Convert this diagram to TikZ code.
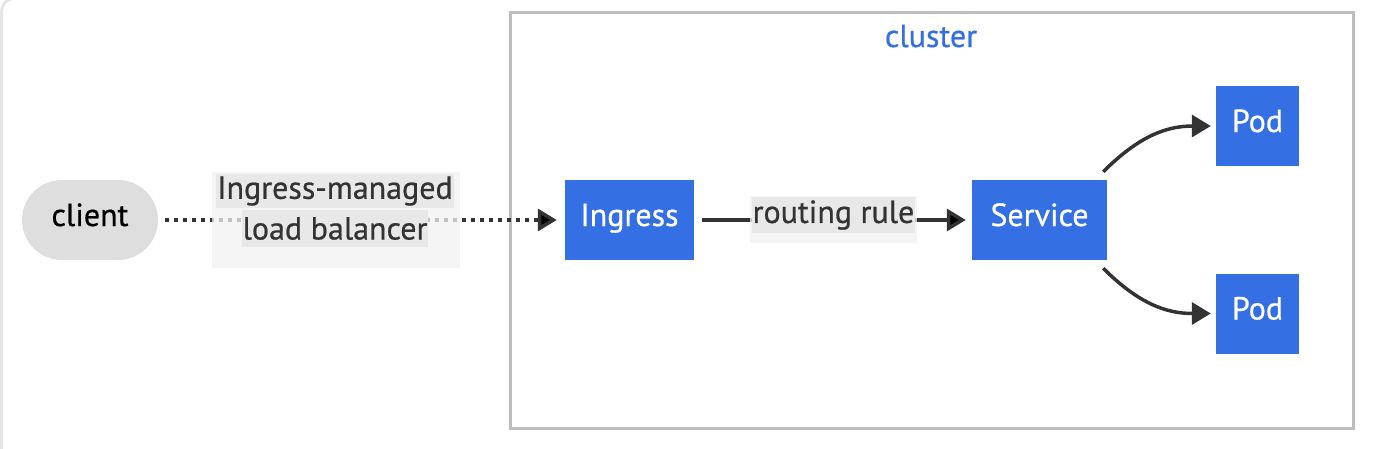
\documentclass[tikz,border=0pt]{standalone}
\usepackage{fontspec}
\setmainfont{PT Sans}[UprightFeatures={FakeBold=0.6}]
\usetikzlibrary{arrows.meta}
\definecolor{podblue}{HTML}{3470E4}
\definecolor{pillgray}{HTML}{DEDEDE}
\definecolor{clustergray}{HTML}{BDBDBD}
\definecolor{framegray}{HTML}{E6E6E6}
\definecolor{edgegray}{HTML}{333333}
\definecolor{lblback}{HTML}{F2F2F2}
\definecolor{lblfront}{HTML}{E8E8E8}

\begin{document}
\begin{tikzpicture}[
      x=1pt, y=-1pt,
      font=\fontsize{32}{36}\selectfont,
      every node/.style={inner sep=0pt},
      pill/.style={rectangle, rounded corners=40pt, fill=pillgray, text=black, minimum width=136pt, minimum height=80pt, text height=23pt, text depth=11pt},
      box/.style={rectangle, fill=podblue, text=white, minimum height=80pt, text height=23pt, text depth=11pt},
      lblbox/.style={rectangle, fill=lblback, fill opacity=0.75},
      lblline/.style={rectangle, fill=lblfront, text=edgegray, inner xsep=1pt},
      pointer/.style={line width=3.5pt, draw=edgegray, -{Triangle[length=19pt,width=22pt]}},
      dpointer/.style={pointer, dash pattern=on 4pt off 5pt},
      frame/.style={draw=framegray, line width=3pt}
      ]

      \useasboundingbox (0,0) rectangle (1382,448);
      \draw[frame] (1.5,460) -- (1.5,14) .. controls (1.5,4) and (6,-1.5) .. (16,-1.5);

      \node[draw=clustergray, line width=3pt, minimum width=843pt, minimum height=416pt] (cluster) at (931.5,220) {};
      \node[text=podblue] (clustertitle) at (931,36) {cluster};

      \node[pill] (client) at (90,220) {client};
      \node[box, minimum width=129pt] (ingress) at (629.5,220) {Ingress};
      \node[box, minimum width=135pt] (service) at (1039.5,220) {Service};
      \node[box, minimum width=83pt] (podtop) at (1257.5,126) {Pod};
      \node[box, minimum width=83pt] (podbot) at (1257.5,313.5) {Pod};

      %level one edges
      \path[dpointer, shorten <=7pt, shorten >=8pt] (client) edge (ingress);
      \path[pointer, shorten <=8pt, shorten >=6pt] (ingress) edge (service);

      %level two edges
      \draw[pointer, shorten >=5pt] ([shift={(-4,-8)}]service.north east) .. controls +(35,-35) and +(-50,0) .. (podtop.west);
      \draw[pointer, shorten >=5pt] ([shift={(-4,8)}]service.south east) .. controls +(35,35) and +(-50,0) .. (podbot.west);

      %edge labels
      \node[lblbox, minimum width=248pt, minimum height=96pt] (lbbox) at (336,220) {};
      \node[lblline, minimum height=34pt] (lbone) at (335,191) {Ingress-managed};
      \node[lblline, minimum height=37pt] (lbtwo) at (335,228.5) {load balancer};
      \node[lblbox, minimum width=167pt, minimum height=47pt] (rulebox) at (833.5,219.5) {};
      \node[lblline, minimum height=36pt] (rule) at (833.5,215) {routing rule};
    \end{tikzpicture}
\end{document}
